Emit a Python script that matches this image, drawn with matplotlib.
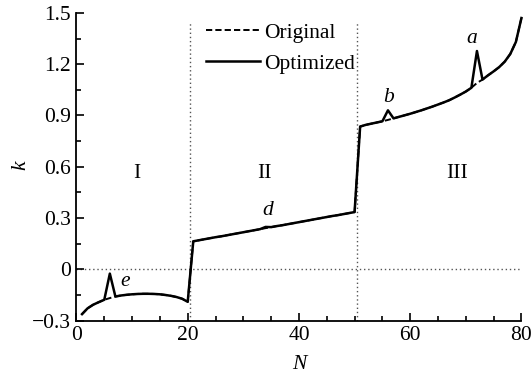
import numpy as np
import matplotlib
matplotlib.use("Agg")
import matplotlib.pyplot as plt
from matplotlib.ticker import MultipleLocator, FixedLocator

plt.rcParams['font.family'] = ['Liberation Serif', 'DejaVu Serif']
plt.rcParams['mathtext.fontset'] = 'stix'

# ---- data ----
N = list(range(1, 81))
original = [
    # region I (N = 1..20)
    -0.262, -0.228, -0.207, -0.192, -0.178, -0.168, -0.159, -0.153, -0.149, -0.146,
    -0.144, -0.143, -0.143, -0.144, -0.146, -0.150, -0.155, -0.162, -0.172, -0.190,
    # region II (N = 21..50)
    0.164, 0.170, 0.176, 0.182, 0.188, 0.193, 0.199, 0.205, 0.211, 0.217,
    0.223, 0.229, 0.235, 0.241, 0.247, 0.253, 0.258, 0.264, 0.270, 0.276,
    0.282, 0.288, 0.294, 0.300, 0.306, 0.312, 0.317, 0.323, 0.329, 0.335,
    # region III (N = 51..80)
    0.835, 0.845, 0.852, 0.859, 0.866, 0.874, 0.883, 0.892, 0.901, 0.910,
    0.920, 0.930, 0.941, 0.952, 0.964, 0.976, 0.989, 1.005, 1.022, 1.040,
    1.062, 1.090, 1.110, 1.135, 1.158, 1.183, 1.215, 1.260, 1.330, 1.470,
]
optimized = [
    -0.262, -0.228, -0.207, -0.192, -0.178, -0.025, -0.159, -0.153, -0.149, -0.146,
    -0.144, -0.143, -0.143, -0.144, -0.146, -0.150, -0.155, -0.162, -0.172, -0.190,
    0.164, 0.170, 0.176, 0.182, 0.188, 0.193, 0.199, 0.205, 0.211, 0.217,
    0.223, 0.229, 0.235, 0.248, 0.247, 0.253, 0.258, 0.264, 0.270, 0.276,
    0.282, 0.288, 0.294, 0.300, 0.306, 0.312, 0.317, 0.323, 0.329, 0.335,
    0.835, 0.845, 0.852, 0.859, 0.866, 0.930, 0.883, 0.892, 0.901, 0.910,
    0.920, 0.930, 0.941, 0.952, 0.964, 0.976, 0.989, 1.005, 1.022, 1.040,
    1.062, 1.277, 1.110, 1.135, 1.158, 1.183, 1.215, 1.260, 1.330, 1.470,
]
region_bounds = [20.5, 50.5]
region_labels = ['I', 'II', 'III']
region_label_x = [10.8, 33.8, 68.4]
point_labels = ['a', 'b', 'd', 'e']
point_label_x = [71.1, 56.2, 34.3, 8.7]
point_label_y = [1.35, 1.008, 0.345, -0.074]
xticks = [0, 20, 40, 60, 80]
yticks = [-0.3, 0, 0.3, 0.6, 0.9, 1.2, 1.5]
ytick_labels = ['\u22120.3', '0', '0.3', '0.6', '0.9', '1.2', '1.5']

# ---- figure ----
fig = plt.figure(figsize=(5.31, 3.79), dpi=100)
ax = fig.add_axes([0.144, 0.154, 0.838, 0.812])

FS = 15.5
dot = (0, (1, 2))
ax.axhline(0, color='#555555', lw=1.0, ls=dot, zorder=1)
for b in region_bounds:
    ax.plot([b, b], [-0.3, 1.445], color='#555555', lw=1.0, ls=dot, zorder=1)

ax.plot(N, original, color='black', lw=1.4, ls=(0, (3.2, 1.6)), label='Original', zorder=2, clip_on=False)
ax.plot(N, optimized, color='black', lw=1.8, ls='-', label='Optimized', zorder=3, clip_on=False)

for x, t in zip(region_label_x, region_labels):
    ax.text(x, 0.56, t, fontsize=FS, ha='center', va='center')
for x, y, t in zip(point_label_x, point_label_y, point_labels):
    ax.text(x, y, t, fontsize=FS, ha='center', va='center', style='italic')

ax.set_xlim(0, 80)
ax.set_ylim(-0.3, 1.5)
ax.xaxis.set_major_locator(FixedLocator(xticks))
ax.xaxis.set_minor_locator(MultipleLocator(5))
ax.yaxis.set_major_locator(FixedLocator(yticks))
ax.set_yticklabels(ytick_labels)
ax.yaxis.set_minor_locator(MultipleLocator(0.15))

for s in ['top', 'right']:
    ax.spines[s].set_visible(False)
for s in ['left', 'bottom']:
    ax.spines[s].set_linewidth(1.3)

ax.tick_params(which='both', direction='in', width=1.2, labelsize=FS)
ax.tick_params(which='major', length=6, pad=4)
ax.tick_params(which='minor', length=3.5)

ax.set_xlabel('N', fontsize=FS, style='italic')
ax.set_ylabel('k', fontsize=FS, style='italic')
ax.xaxis.set_label_coords(0.5, -0.112)
ax.yaxis.set_label_coords(-0.104, 0.505)

ax.legend(loc='upper left', bbox_to_anchor=(0.29, 0.968), frameon=False,
          fontsize=FS, handlelength=2.55, handletextpad=0.15,
          labelspacing=0.5, borderaxespad=0, borderpad=0)

fig.savefig('out.png', dpi=100)
